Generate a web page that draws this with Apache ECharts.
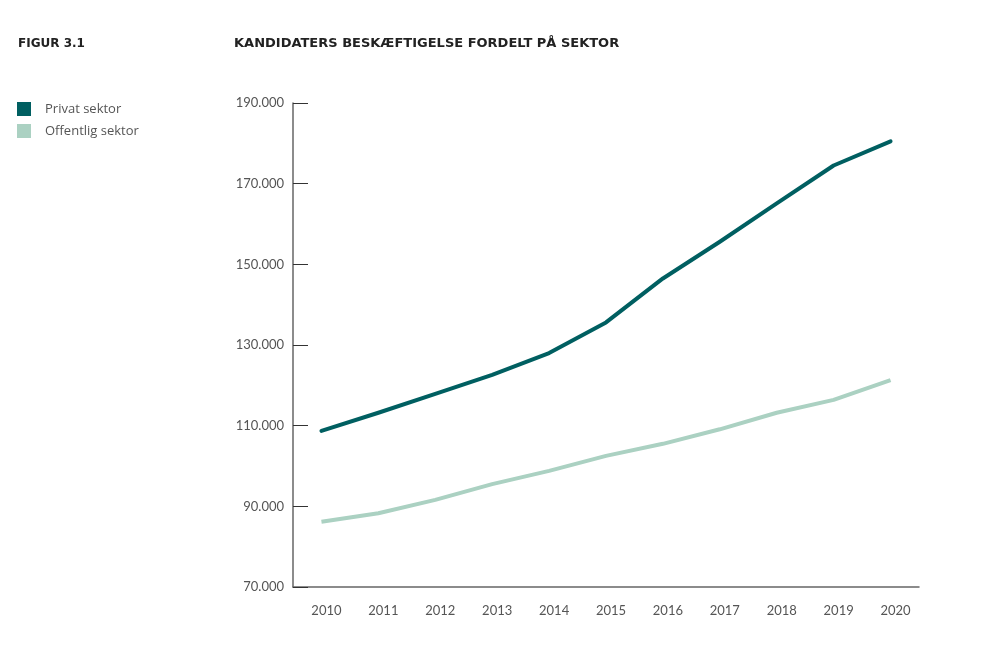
<!DOCTYPE html>
<html>
<head>
<meta charset="utf-8">
<script src="https://cdn.jsdelivr.net/npm/echarts@6/dist/echarts.min.js"></script>
<style>
html,body{margin:0;padding:0;background:#fff;}
#c{width:1001px;height:657px;}
</style>
</head>
<body>
<div id="c"></div>
<script>
var years = ['2010','2011','2012','2013','2014','2015','2016','2017','2018','2019','2020'];
var privat = [108700,113200,117900,122600,128000,135600,146500,155600,165100,174500,180500];
var offentlig = [86200,88300,91600,95500,98800,102500,105500,109100,113200,116400,121300];
var seriesNames = ['Privat sektor','Offentlig sektor'];
var figTitle = 'FIGUR 3.1';
var chartTitle = 'KANDIDATERS BESKÆFTIGELSE FORDELT PÅ SEKTOR';

var chart = echarts.init(document.getElementById('c'));
var font = 'Lato, "Open Sans", sans-serif';
var tfont = '"DejaVu Sans", sans-serif';
chart.setOption({
  animation:false,
  backgroundColor:'#fff',
  title:[
    {text:figTitle, left:18, top:38, padding:0, textStyle:{fontFamily:tfont, fontSize:12, fontWeight:'bold', color:'#222'}},
    {text:chartTitle, left:234, top:37, padding:0, textStyle:{fontFamily:tfont, fontSize:13, fontWeight:'bold', color:'#222'}}
  ],
  legend:{
    orient:'vertical', left:17, top:102, padding:0, itemWidth:14, itemHeight:14, itemGap:8,
    icon:'rect',
    textStyle:{fontFamily:'"Open Sans", sans-serif', fontSize:13, color:'#555', padding:[2,0,0,9]},
    data:seriesNames
  },
  grid:{left:293, right:82, top:103, bottom:70, containLabel:false},
  xAxis:{
    type:'category', data:years, boundaryGap:true,
    axisLine:{lineStyle:{color:'#666', width:1.5}},
    axisTick:{inside:true, length:13, interval:0, lineStyle:{color:'#444'}},
    axisLabel:{margin:17, padding:[0,0,0,10], fontFamily:font, fontSize:13, color:'#555'},
    splitLine:{show:false}
  },
  yAxis:{
    type:'value', min:70000, max:190000, interval:20000,
    axisLine:{show:true, lineStyle:{color:'#666', width:1.5}},
    axisTick:{show:true, inside:true, length:15, lineStyle:{color:'#333'}},
    axisLabel:{margin:9, fontFamily:font, fontSize:13, color:'#555',
      formatter:function(v){return String(v).replace(/\B(?=(\d{3})+(?!\d))/g,'.');}},
    splitLine:{show:false}
  },
  series:[
    {name:seriesNames[0], type:'line', data:privat, symbol:'none', color:'#005f61',
     lineStyle:{width:4, color:'#005f61', cap:'round', join:'round'}},
    {name:seriesNames[1], type:'line', data:offentlig, symbol:'none', color:'#abd1c2',
     lineStyle:{width:4, color:'#abd1c2', join:'round'}}
  ]
});
</script>
</body>
</html>
